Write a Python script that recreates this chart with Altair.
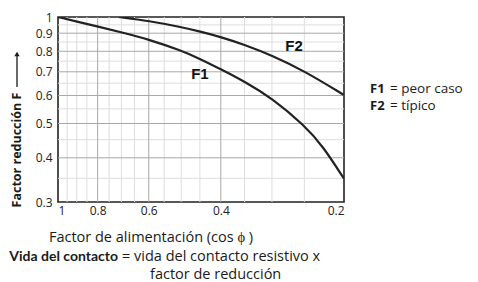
import altair as alt
import pandas as pd

# Curve data (cos phi -> reduction factor F)
cos_f1 = [1.0, 0.9, 0.8, 0.7, 0.6, 0.5, 0.45, 0.4, 0.35, 0.3, 0.25, 0.225, 0.2]
f1_vals = [1.0, 0.971, 0.94, 0.905, 0.864, 0.804, 0.762, 0.712, 0.657, 0.59, 0.494, 0.431, 0.349]
cos_f2 = [0.71, 0.6, 0.5, 0.45, 0.4, 0.35, 0.3, 0.25, 0.2]
f2_vals = [1.0, 0.975, 0.937, 0.91, 0.878, 0.835, 0.779, 0.704, 0.602]

x_ticks = [1, 0.8, 0.6, 0.4, 0.2]
y_ticks = [1, 0.9, 0.8, 0.7, 0.6, 0.5, 0.4, 0.3]
x_grid_minor = [0.95, 0.9, 0.85, 0.75, 0.7, 0.65, 0.55, 0.5, 0.45, 0.35, 0.3, 0.25]
x_grid_major = [0.8, 0.6, 0.4]
y_grid_minor = [0.95, 0.85, 0.75, 0.65, 0.55, 0.45, 0.35]
y_grid_major = [0.9, 0.8, 0.7, 0.6, 0.5, 0.4]

curve_labels = ["F1", "F2"]
label_cos = [0.45, 0.265]
label_f = [0.69, 0.83]

curves = pd.DataFrame(
    {"cos": cos_f1 + cos_f2,
     "F": f1_vals + f2_vals,
     "serie": ["F1"] * len(cos_f1) + ["F2"] * len(cos_f2)}
)

W, H = 286, 185
xs = alt.Scale(type="log", domain=[0.2, 1], reverse=True, nice=False)
ys = alt.Scale(type="log", domain=[0.3, 1], nice=False)

tick_font = "Open Sans"
text_font = "Open Sans"

x_axis = alt.Axis(values=x_ticks, format="~g", grid=False, ticks=False, domain=False,
                  title=None, labelFont=tick_font, labelFontSize=12, labelColor="#222",
                  labelPadding=3)
y_axis = alt.Axis(values=y_ticks, format="~g", grid=False, ticks=False, domain=False,
                  title=None, labelFont=tick_font, labelFontSize=12, labelColor="#222",
                  labelPadding=6)


def vgrid(vals, color):
    return alt.Chart(pd.DataFrame({"v": vals})).mark_rule(color=color, strokeWidth=1).encode(
        x=alt.X("v:Q", scale=xs, axis=x_axis))


def hgrid(vals, color):
    return alt.Chart(pd.DataFrame({"v": vals})).mark_rule(color=color, strokeWidth=1).encode(
        y=alt.Y("v:Q", scale=ys, axis=y_axis))


lines = alt.Chart(curves).mark_line(color="#222222", strokeWidth=2.2, interpolate="basis", clip=True).encode(
    x=alt.X("cos:Q", scale=xs, axis=x_axis),
    y=alt.Y("F:Q", scale=ys, axis=y_axis),
    detail="serie:N",
)

lbl = alt.Chart(pd.DataFrame({"t": curve_labels, "c": label_cos, "f": label_f})).mark_text(
    font="Liberation Sans", fontWeight="bold", fontSize=15, color="#111").encode(
    x=alt.X("c:Q", scale=xs, axis=x_axis), y=alt.Y("f:Q", scale=ys, axis=y_axis), text="t:N")


def txt(s, x, y, weight="normal", size=14.5, align="left", angle=0, font=text_font):
    return alt.Chart(pd.DataFrame({"t": [s]})).mark_text(
        font=font, fontSize=size, fontWeight=weight, align=align, baseline="middle",
        angle=angle, color="#1a1a1a").encode(x=alt.value(x), y=alt.value(y), text="t:N")


ytitle = txt("Factor reducción F", -41, 133, weight="bold", size=12.5, align="center", angle=270)
arrow_line = alt.Chart(pd.DataFrame({"a": [0]})).mark_rule(color="#1a1a1a", strokeWidth=1.3).encode(
    x=alt.value(-41), y=alt.value(38), y2=alt.value(70))
arrow_head = alt.Chart(pd.DataFrame({"a": [0]})).mark_point(
    shape="triangle-up", filled=True, size=28, color="#1a1a1a", opacity=1).encode(
    x=alt.value(-41), y=alt.value(37))

leg1a = txt("F1", 312, 72, weight="bold", size=13)
leg1b = txt("= peor caso", 332, 72, size=13.5)
leg2a = txt("F2", 312, 89, weight="bold", size=13)
leg2b = txt("= típico", 332, 89, size=13.5)

xtitle = txt("Factor de alimentación (cos ϕ )", 93, 221, align="center", size=14.5)
note1a = txt("Vida del contacto", 60, 240, weight="bold", size=14, align="right", font="Lato")
note1b = txt("= vida del contacto resistivo x", 64, 240, size=14.5)
note2 = txt("factor de reducción", 92, 258, size=14.5)

chart = alt.layer(
    vgrid(x_grid_minor, "#dddddd"), hgrid(y_grid_minor, "#dddddd"),
    vgrid(x_grid_major, "#a8a8a8"), hgrid(y_grid_major, "#a8a8a8"),
    lines, lbl, ytitle, arrow_line, arrow_head,
    leg1a, leg1b, leg2a, leg2b, xtitle, note1a, note1b, note2,
).properties(
    width=W, height=H,
    autosize=alt.AutoSizeParams(type="none"),
    padding={"left": 50, "top": 9, "right": 126, "bottom": 82},
    background="white",
).configure_view(stroke="#222222", strokeWidth=1.6)

chart.save("out.html", embed_options={"renderer": "svg", "actions": False})
